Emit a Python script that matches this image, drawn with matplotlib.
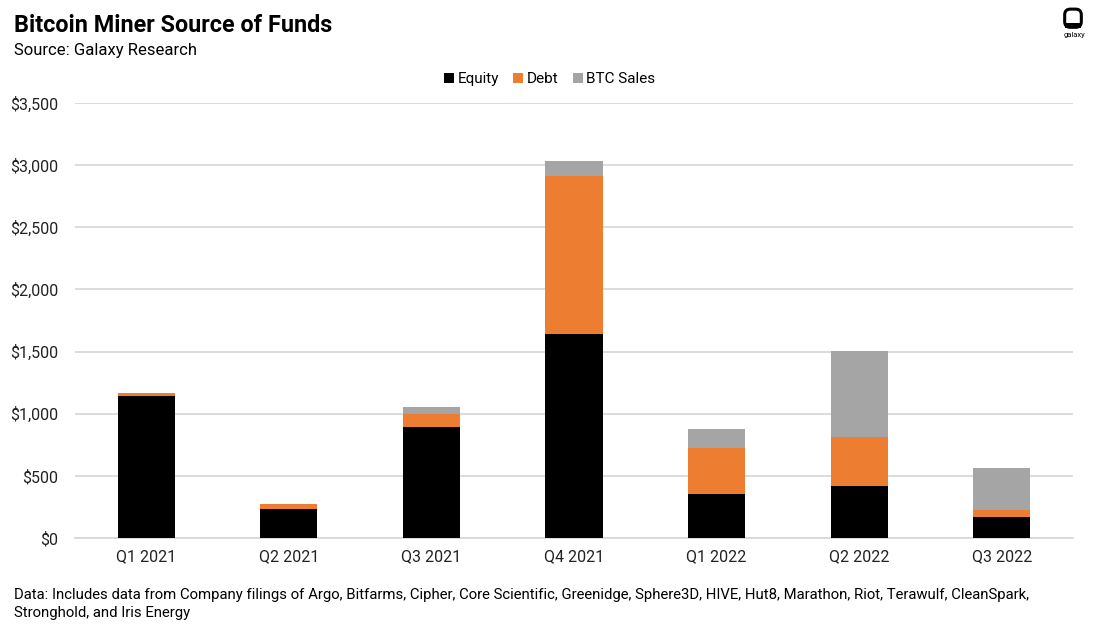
import numpy as np
import matplotlib.pyplot as plt
from matplotlib.patches import FancyBboxPatch, Rectangle

quarters = ["Q1 2021", "Q2 2021", "Q3 2021", "Q4 2021", "Q1 2022", "Q2 2022", "Q3 2022"]
equity = [1140, 230, 890, 1640, 351, 416, 171]
debt = [28, 40, 110, 1272, 375, 394, 54]
btc_sales = [0, 0, 56, 120, 148, 694, 336]
yticks = [0, 500, 1000, 1500, 2000, 2500, 3000, 3500]

plt.rcParams['font.family'] = ['Roboto', 'DejaVu Sans']

fig = plt.figure(figsize=(11, 6.34), dpi=100)
ax = fig.add_axes([75 / 1100, 1 - 538 / 634, (1073 - 75) / 1100, (538 - 103) / 634])

x = np.arange(len(quarters))
eq = np.array(equity)
db = np.array(debt)
bt = np.array(btc_sales)
w = 0.4
ax.bar(x, eq, w, color="black", label="Equity", zorder=3)
ax.bar(x, db, w, bottom=eq, color="#ED7D31", label="Debt", zorder=3)
ax.bar(x, bt, w, bottom=eq + db, color="#A5A5A5", label="BTC Sales", zorder=3)

ax.set_xlim(-0.5, len(quarters) - 0.5)
ax.set_ylim(0, 3500)
ax.set_yticks(yticks)
ax.set_yticklabels([f"${v:,}" for v in yticks])
ax.set_xticks(x)
ax.set_xticklabels(quarters)
ax.yaxis.grid(True, color="#d9d9d9", linewidth=1.3, zorder=0)
for s in ["top", "right", "left"]:
    ax.spines[s].set_visible(False)
ax.spines["bottom"].set_color("#d9d9d9")
ax.spines["bottom"].set_linewidth(1.3)
ax.tick_params(axis="both", length=0, labelsize=11.5, colors="#222222")
ax.tick_params(axis="y", pad=12)
ax.tick_params(axis="x", pad=8)

leg = fig.legend(loc="center", bbox_to_anchor=(0.5, 1 - 79 / 634), ncol=3, frameon=False,
                 fontsize=11, handlelength=0.65, handleheight=0.65, handletextpad=0.25,
                 columnspacing=0.9)

fig.text(14 / 1100, 1 - 25 / 634, "Bitcoin Miner Source of Funds", fontsize=16.8, fontweight="bold",
         va="center", ha="left")
fig.text(14 / 1100, 1 - 51 / 634, "Source: Galaxy Research", fontsize=12, va="center", ha="left")
fig.text(14 / 1100, 1 - 595 / 634, "Data: Includes data from Company filings of Argo, Bitfarms, Cipher, Core Scientific, Greenidge, Sphere3D, HIVE, Hut8, Marathon, Riot, Terawulf, CleanSpark,",
         fontsize=10.7, va="center", ha="left")
fig.text(14 / 1100, 1 - 613 / 634, "Stronghold, and Iris Energy", fontsize=10.7, va="center", ha="left")

# logo
lax = fig.add_axes([1060 / 1100, 1 - 32 / 634, 26 / 1100, 26 / 634])
lax.set_xlim(0, 1)
lax.set_ylim(0, 1)
lax.set_aspect("equal")
lax.axis("off")
lax.add_patch(FancyBboxPatch((0.18, 0.18), 0.64, 0.7, boxstyle="round,pad=0,rounding_size=0.22",
                             facecolor="white", edgecolor="black", linewidth=2.2))
lax.add_patch(Rectangle((0.2, 0.16), 0.6, 0.2, facecolor="black", edgecolor="none"))
fig.text(1074 / 1100, 1 - 35 / 634, "galaxy", fontsize=5.5, ha="center", va="center")

fig.savefig("out.png", dpi=100)
